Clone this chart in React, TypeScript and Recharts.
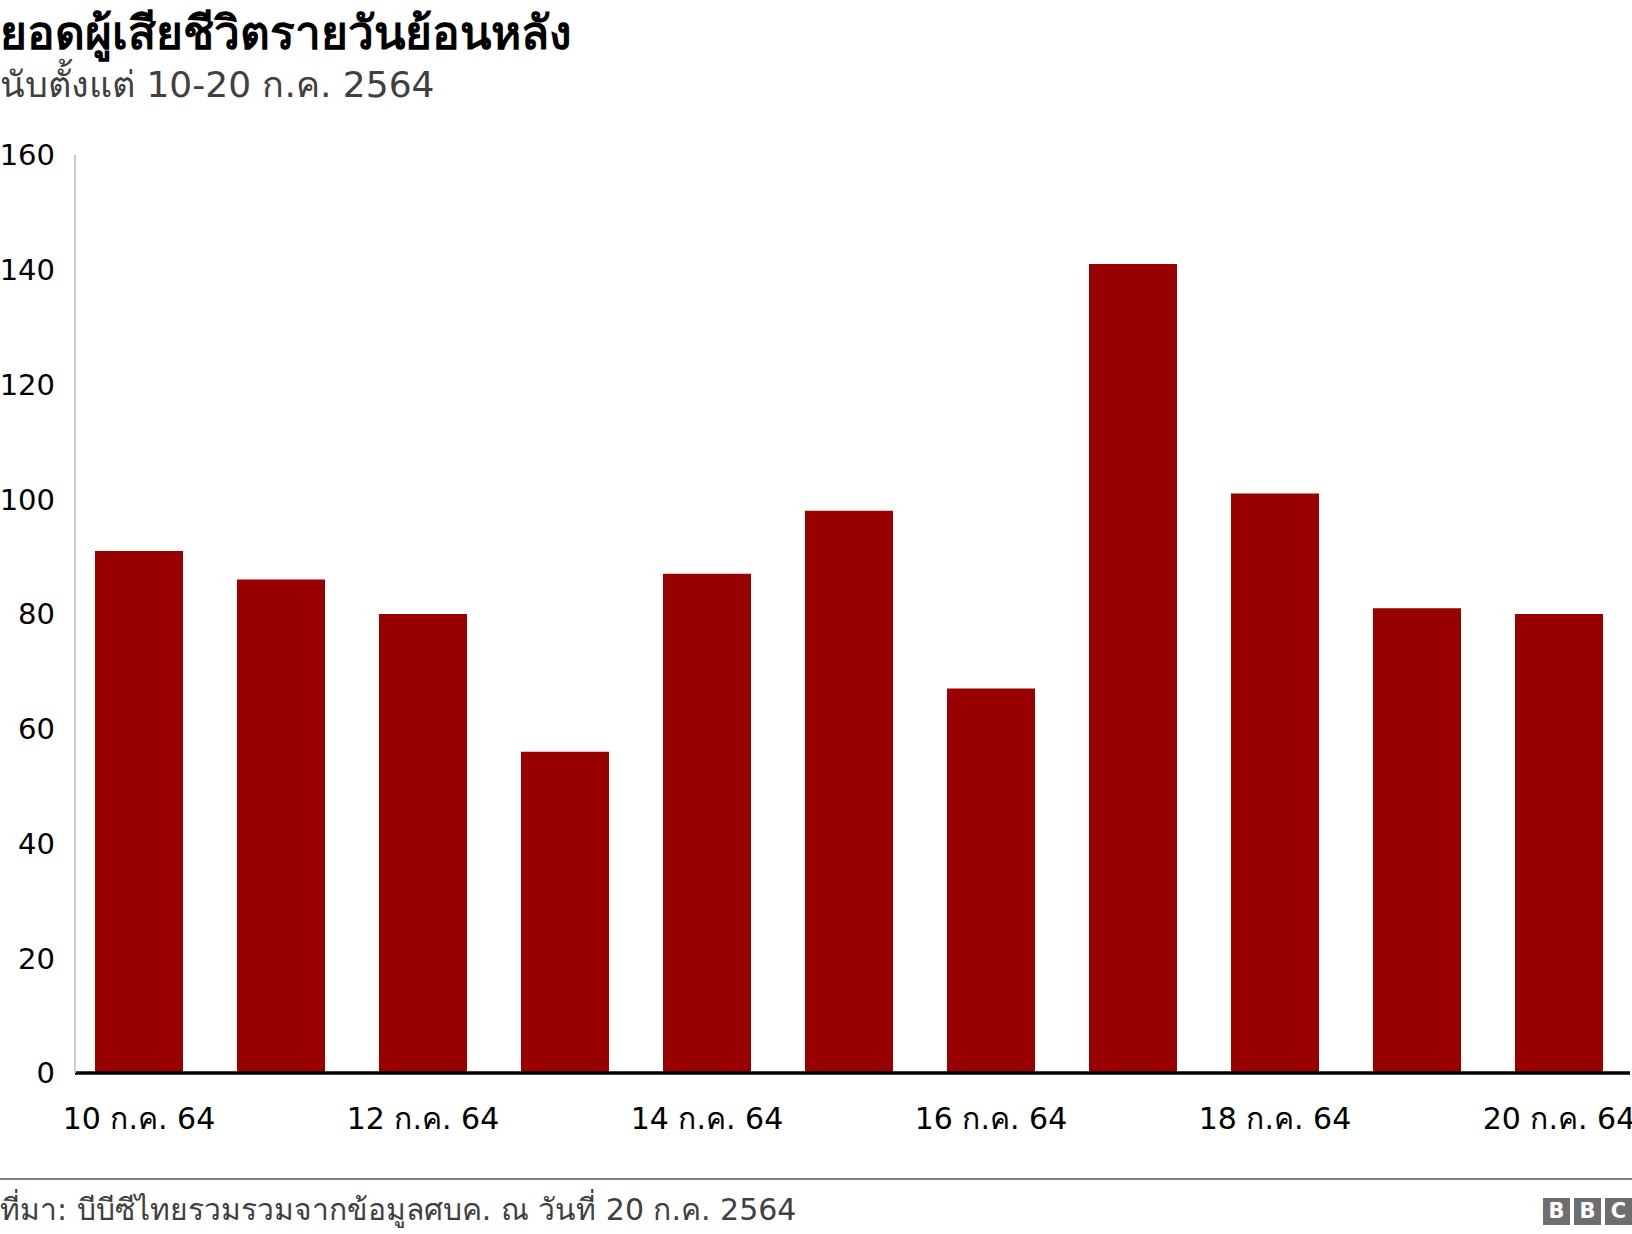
import { BarChart, Bar, XAxis, YAxis, ResponsiveContainer } from 'recharts'

const dates = [
  '10 ก.ค. 64',
  '11 ก.ค. 64',
  '12 ก.ค. 64',
  '13 ก.ค. 64',
  '14 ก.ค. 64',
  '15 ก.ค. 64',
  '16 ก.ค. 64',
  '17 ก.ค. 64',
  '18 ก.ค. 64',
  '19 ก.ค. 64',
  '20 ก.ค. 64',
]
const deaths = [91, 86, 80, 56, 87, 98, 67, 141, 101, 81, 80]
const yTicks = [0, 20, 40, 60, 80, 100, 120, 140, 160]

const data = dates.map((label, i) => ({ label, value: deaths[i] }))

const FONT = "Tahoma, 'DejaVu Sans', 'Noto Sans', sans-serif"

function BbcLogo() {
  const box = {
    width: 27,
    height: 27,
    background: '#6e6e6e',
    color: '#fff',
    fontWeight: 700,
    fontSize: 21,
    lineHeight: '27px',
    textAlign: 'center' as const,
    fontFamily: "'DejaVu Sans', sans-serif",
  }
  return (
    <div style={{ position: 'absolute', right: 0, top: 1198, display: 'flex', gap: 4 }}>
      <div style={box}>B</div>
      <div style={box}>B</div>
      <div style={box}>C</div>
    </div>
  )
}

export default function App() {
  return (
    <div
      style={{
        position: 'relative',
        width: 1632,
        height: 1234,
        background: '#fff',
        fontFamily: FONT,
        overflow: 'hidden',
      }}
    >
      <style>{'body{margin:0}'}</style>
      <div
        style={{
          position: 'absolute',
          left: 0,
          top: -4,
          fontSize: 46,
          fontWeight: 700,
          color: '#000',
          whiteSpace: 'nowrap',
        }}
      >
        ยอดผู้เสียชีวิตรายวันย้อนหลัง
      </div>
      <div
        style={{
          position: 'absolute',
          left: 0,
          top: 56,
          fontSize: 36,
          color: '#404040',
          whiteSpace: 'nowrap',
        }}
      >
        นับตั้งแต่ 10-20 ก.ค. 2564
      </div>

      <div style={{ position: 'absolute', left: 0, top: 0, width: 1632, height: 1234 }}>
        <ResponsiveContainer width="100%" height="100%">
          <BarChart
            data={data}
            margin={{ top: 155, right: 2, left: 0, bottom: 101 }}
            barSize={88}
          >
            <XAxis
              dataKey="label"
              interval={1}
              padding={{ left: -7, right: 0 }}
              axisLine={{ stroke: '#000', strokeWidth: 3.5 }}
              tickLine={false}
              tickMargin={29}
              height={60}
              tick={{ fontSize: 30, fill: '#000', fontFamily: FONT }}
            />
            <YAxis
              domain={[0, 160]}
              ticks={yTicks}
              width={75}
              axisLine={{ stroke: '#cccccc', strokeWidth: 2 }}
              tickLine={false}
              tickMargin={14}
              tick={{ fontSize: 29, fill: '#000', fontFamily: FONT }}
            />
            <Bar dataKey="value" fill="#990000" isAnimationActive={false} />
          </BarChart>
        </ResponsiveContainer>
      </div>

      <div
        style={{
          position: 'absolute',
          left: 0,
          top: 1178,
          width: 1632,
          height: 2,
          background: '#808080',
        }}
      />
      <div
        style={{
          position: 'absolute',
          left: 0,
          top: 1186,
          fontSize: 30,
          color: '#404040',
          whiteSpace: 'nowrap',
        }}
      >
        ที่มา: บีบีซีไทยรวมรวมจากข้อมูลศบค. ณ วันที่ 20 ก.ค. 2564
      </div>
      <BbcLogo />
    </div>
  )
}
